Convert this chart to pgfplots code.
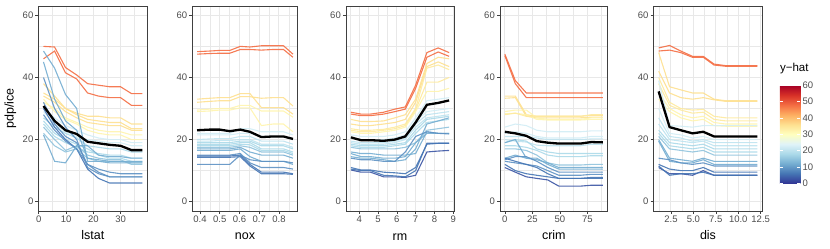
\documentclass[border=0pt]{standalone}
\usepackage{pgfplots}
\pgfplotsset{compat=1.18}
\usepackage{pgfplotstable}
\usepackage{fontspec}
\setmainfont{Liberation Sans}

\definecolor{c0}{HTML}{313695}
\definecolor{c6}{HTML}{4575B4}
\definecolor{c12}{HTML}{74ADD1}
\definecolor{c18}{HTML}{ABD9E9}
\definecolor{c24}{HTML}{D2EDF5}
\definecolor{c30}{HTML}{FFF4AE}
\definecolor{c36}{HTML}{FEE090}
\definecolor{c42}{HTML}{FDAE61}
\definecolor{c48}{HTML}{F46D43}
\definecolor{c54}{HTML}{D73027}
\definecolor{c60}{HTML}{A50026}
\colorlet{c3}{c0!50!c6}
\colorlet{c9}{c6!50!c12}
\colorlet{c15}{c12!50!c18}
\colorlet{c21}{c18!50!c24}
\colorlet{c33}{c30!50!c36}
\colorlet{c45}{c42!50!c48}
\newcommand{\cbf}{\fontsize{9.5}{11}\selectfont}

% lstat
\pgfplotstableread{
x     r1   r2   y1   y2   y3   y4   y5   l1   l2   l3   l4   l5   l6   l7   b1   b2   b3   b4   b5   b6   b7   pdp
1.73  50   46   38   35   34   32   33   30   29   27   25   26   24   22   48.5 45   40   32   30   28   21.5 30.8
5.8   49.8 48.5 34   33   32   30   29   27   25   24   21   22   20   18   43   33   30   25   24   23   13   26
9.8   43.2 41.5 30   30   29   27   26.5 24.5 22.5 22   19   20   16.5 16   34.5 26   24   21   20   19.5 12.5 23
13.9  40.8 39.5 28.5 28   27   25.5 25   23   21   20.5 17.5 18.5 18   17   30   23   20   19   17   17   18   21.8
17.9  38   35   27.5 26.5 25.5 24   23   21.5 20   18   16   17   15   14   13   14   11   12   10.5 12   18   19.3
21.9  37.5 34   27.5 26   25   23   22   20.5 19.5 17.5 15.5 15   14   13   13   13.5 9    9.5  7.5  10.5 15   18.8
26.0  37   33.5 27   25.5 24.5 22.5 21.5 20   19   17   15   14   13.5 13   12.5 13   8    8    6    9.5  14.5 18.3
30.0  37   33.5 27   25.5 24.5 22.5 21.5 20   19   17   15   14   13.5 13   12.5 13   8    8    6    9    14.5 18
34.0  34.8 31   25   23.5 23   21.5 20   19   18   16   14   13   12   12.5 12.5 13   8    8    6    9    14   16.6
37.97 34.8 31   25   23.5 23   21.5 20   19   18   16   14   13   12   12.5 12.5 13   8    8    6    9    14   16.6
}\tlstat

% nox
\pgfplotstableread{
x     r1   r2   y1   y2   y3   y4   l1   l2   l3   l4   l5   l6   l7   l8   b1   b2   b3   b4   b5   b6   pdp
0.385 48.3 47.5 33   32   29.5 29   22   21.5 20   19.5 19   18.5 18   17.5 17   16.5 15   14.7 14.3 12   23
0.449 48.5 47.7 33.3 32.3 29.8 29.2 22   21.5 20.2 19.5 19   18.5 18   17.5 17   16.5 15   14.7 14.3 12   23.2
0.5   48.7 47.8 33.5 32.5 30   29.5 22   21.5 20.3 19.7 19   18.5 18   17.5 17   16.5 15   14.7 14.3 12   23.2
0.551 48.7 47.8 33.5 32.5 30   29.5 22   21.5 20.3 19.7 19   18.5 18   17.5 17   16.5 15   14.7 14.3 12   22.7
0.604 50   49   34.8 33.8 31   30.2 23.5 22   21   20   19.5 19   18.5 18   17.5 17   15.5 15   14.5 15   23.2
0.653 49.8 49   34.8 33.8 31   30.2 23.5 22   21   20   19.5 19   18.3 17.5 16   14.5 12.5 12   11.5 13.5 22.5
0.711 50.2 48.8 30.3 33.3 29.2 24.5 22.5 21   19.5 18.5 18   17   16.5 16   15   13   11   9.5  9    13   20.8
0.77  50.2 49   30.3 33.5 29.2 25   22.5 21   19.5 18.5 18   17   16.5 16   15   13   11   9.5  9    13   21
0.823 50.2 49   30.3 33.5 29.2 25   22.5 21   19.5 18.5 18   17   16.5 16   15   13   11   9.5  9    13   21
0.871 47.5 46.5 28.2 30.8 27.2 22.5 21.5 20   18.5 17.5 17   16   15.5 15   14   12   10.5 9    8.8  12.5 20.2
}\tnox

% rm
\pgfplotstableread{
x     r1   r2   y1   y2   y3   y4   y5   l1   l2   l3   l4   l5   l6   l7   b1   b2   b3   b4   b5   b6   b7   pdp
3.561 28.8 28.2 26.5 25   23.5 23   22.5 21.5 20.5 19.5 19   18.5 18   17.5 16   15.5 14.5 14   11   10.2 10.5 20.7
4.1   28.2 27.7 25.8 24.5 23   22.5 22   21   20   19   18.5 18   17.5 17   15.5 14.5 14   13.5 10.2 9.5  10   19.8
4.6   28.2 27.7 25.8 24.5 23   22.5 22   21   20   19   18.5 18   17.5 17   15.5 14.5 14   13.5 10.2 9.5  10   19.8
5.3   28.8 28.2 26   25   23.3 23   22.5 21   20   19   18.5 18   17.5 17   15   14   13.5 13   9.5  8    8.5  19.6
5.9   29.8 29   27   25.5 24   23.5 23   21.5 20.5 19.5 19   18.5 18   17   15   14   13   13   9.3  8    8.3  20
6.45  30.5 29.8 28   26.5 25   24.5 24   22.5 21.5 20.5 20   19   18.5 17.5 15   14.5 13.5 16   9    7.8  8    21
7.0   37.5 36.5 33   32   30   29.5 29   27   26   25   24   23   22   19   15.5 19   17   21   11   8.5  10   25.5
7.6   48   46.5 44.5 43.5 43   38.5 35.5 32.5 29   28   27   26.5 25.5 23   22.5 22   25   22.5 18.5 16   18.8 31.2
8.2   49.5 48.2 46.5 45   44   38.5 35.5 33   29.5 28.5 27.5 27   26   23.5 22   22   26   22   18.8 16.3 18.8 31.8
8.78  48   46.8 46   43.5 42.5 40   36.5 33.5 30   29   28   27.5 26.5 24   22   22   27   21.8 18.8 16.5 18.8 32.6
}\trm

% crim
\pgfplotstableread{
x     r1   r2   y1   y2   y3   y4   y5   l1   l2   l3   l4   l5   l6   l7   b1   b2   b3   b4   b5   b6   b7   pdp
0.006 47.5 47   34   33.3 29   28.3 28   24   22   21   20   19   18   17   19   14   13.5 13   12   11   14   22.5
9.5   39   38   34   33.5 29.5 28.5 28.5 25   22.5 21   19.5 20   18   17   20   15   14.5 12.5 10   9.5  13   22
19.5  35   33.5 28   27.5 29.5 28   27.5 24.5 22   21   19.2 19.5 17.5 16.5 14   14   14.5 12   9    8    12   21.2
29    35   33.5 27.5 27   27   26.5 27.5 23   21   20.5 18.2 17   16.5 15   13.5 14   13   11.5 8.5  7.5  11   19.5
39    35   33.5 27.5 27   26.5 26.3 27.5 22.5 20.5 20   18   16   15   12.5 12.5 12   11   10   8    7    9    19
49    35   33.5 27.5 27   26.5 26.3 27.5 22.5 20.5 20   18   15.5 14.5 11.8 11   10.5 9.5  8.5  7.5  5    7.5  18.7
58.5  35   33.5 27.5 27   26.5 26.3 27.5 22.5 20.5 20   18   15.5 14.5 11.8 11   10.5 9.5  8.5  7.5  5    7.5  18.7
68.5  35   33.5 27.5 27   26.5 26.3 27.5 22.5 20.5 20   18   15.5 14.5 11.8 11   10.5 9.5  8.5  7.5  5    7.5  18.7
78.5  35   33.5 27.8 27.2 27   26.5 28   22.8 21   20.2 18.5 15.5 14.8 12   11   10.5 9.5  8.8  7.5  5.3  7.8  19.2
88.98 35   33.5 27.8 27.2 27   26.5 28   22.8 21   20.2 18.5 15.5 14.8 12   11   10.5 9.5  8.8  7.5  5.3  7.8  19.1
}\tcrim

% dis
\pgfplotstableread{
x     r1   r2   y1   y2   y3   y4   y5   y6   l1   l2   l3   l4   l5   l6   l7   b1   b2   b3   b4   b5   b6   pdp
1.13  49.5 48.5 48   42   40   38   35   33   39   30   27   25   23   22   21   20   19.5 14   12   11   11.5 35.5
2.35  50.3 48.8 37   35   32   31   30   29   24.5 22   21   20   19   18   17   14   13   13.5 10.5 9    8.5  24
3.6   48.5 48   36   33.5 30   29.5 28   27   24.3 21.5 20.5 19.5 18.5 17.5 16.5 13.5 12.5 12.5 10   9    9    23
4.9   46.8 46.5 35   33   29.5 28.5 27   26   24   20.5 19.5 19   18   17   16   13   12.5 12   10   8.5  9    22
6.1   46.8 46.5 35   33.5 29.7 28.8 27.5 26.5 24.5 21   20   19.5 18.5 17.5 16.5 14   13.5 12.5 11   10   9.5  22.5
7.3   44.3 44   33   32.8 27.5 26.5 25.5 24.5 24.5 20   19   18   17   16   15   13   12   11.5 9.5  8.5  8.5  21
8.6   43.8 43.6 32.5 32.3 27   26   25   24.3 24.5 20   19   18   17   16   15   13   12   11.5 9.5  8.5  8.5  21
9.9   43.8 43.6 32.5 32.3 27   26   25   24.3 24.5 20   19   18   17   16   15   13   12   11.5 9.5  8.5  8.5  21
11.0  43.8 43.6 32.5 32.3 27   26   25   24.3 24.5 20   19   18   17   16   15   13   12   11.5 9.5  8.5  8.5  21
12.13 43.8 43.6 32.5 32.3 27   26   25   24.3 24.5 20   19   18   17   16   15   13   12   11.5 9.5  8.5  8.5  21
}\tdis

\pgfplotsset{
  colormap={rdylbu}{rgb255=(49,54,149) rgb255=(69,117,180) rgb255=(116,173,209)
    rgb255=(171,217,233) rgb255=(224,243,248) rgb255=(255,255,191) rgb255=(254,224,144)
    rgb255=(253,174,97) rgb255=(244,109,67) rgb255=(215,48,39) rgb255=(165,0,38)},
  /pgf/number format/assume math mode=true,
  panel/.style={
    scale only axis, height=205pt, anchor=south west,
    ymin=-3, ymax=63, ytick={0,20,40,60}, minor ytick={10,30,50},
    grid=both,
    major grid style={color=black!9, line width=0.9pt},
    minor grid style={color=black!9, line width=0.45pt},
    axis line style={black!75, line width=0.7pt},
    tick align=outside, major tick length=3pt, minor tick length=0pt,
    tick style={black!75, line width=0.6pt},
    xtick pos=bottom, ytick pos=left,
    ticklabel style={font=\fontsize{9.5}{11}\selectfont, text=black!70},
    xticklabel style={inner sep=1pt, yshift=-1pt},
    yticklabel style={inner sep=1pt, xshift=-1pt},
    xlabel style={at={(axis description cs:0.5,0)}, anchor=base, yshift=-29pt, inner sep=0pt, font=\fontsize{12.5}{14}\selectfont},
    ylabel style={at={(axis description cs:0,0.5)}, anchor=center, yshift=28pt, inner sep=0pt, font=\fontsize{12.5}{14}\selectfont},
    every axis plot/.append style={line width=1.1pt, opacity=0.9, no markers},
  },
  pdp/.style={black, line width=2.3pt, opacity=1},
}

\begin{document}
\begin{tikzpicture}
\useasboundingbox (0,0) rectangle (830pt,249pt);

% ---------- lstat
\begin{axis}[panel, at={(38.5pt,38pt)}, width=108.8pt,
  xmin=-0.1, xmax=39.8, xtick={0,10,20,30}, minor xtick={5,15,25,35},
  xlabel={lstat}, ylabel={pdp/ice}]
\addplot[c48] table[y=r1]{\tlstat};
\addplot[c48] table[y=r2]{\tlstat};
\addplot[c36] table[y=y1]{\tlstat};
\addplot[c36] table[y=y2]{\tlstat};
\addplot[c36] table[y=y3]{\tlstat};
\addplot[c30] table[y=y4]{\tlstat};
\addplot[c30] table[y=y5]{\tlstat};
\addplot[c24] table[y=l1]{\tlstat};
\addplot[c24] table[y=l2]{\tlstat};
\addplot[c18] table[y=l3]{\tlstat};
\addplot[c18] table[y=l4]{\tlstat};
\addplot[c18] table[y=l5]{\tlstat};
\addplot[c15] table[y=l6]{\tlstat};
\addplot[c15] table[y=l7]{\tlstat};
\addplot[c12] table[y=b1]{\tlstat};
\addplot[c12] table[y=b2]{\tlstat};
\addplot[c9] table[y=b3]{\tlstat};
\addplot[c9] table[y=b4]{\tlstat};
\addplot[c6] table[y=b5]{\tlstat};
\addplot[c9] table[y=b6]{\tlstat};
\addplot[c12] table[y=b7]{\tlstat};
\addplot[pdp] table[y=pdp]{\tlstat};
\end{axis}

% ---------- nox
\begin{axis}[panel, at={(192.3pt,38pt)}, width=105.4pt,
  xmin=0.361, xmax=0.895, xtick={0.4,0.5,0.6,0.7,0.8}, minor xtick={0.45,0.55,0.65,0.75,0.85},
  xticklabels={0.4,0.5,0.6,0.7,0.8},
  xlabel={nox}]
\addplot[c48] table[y=r1]{\tnox};
\addplot[c48] table[y=r2]{\tnox};
\addplot[c36] table[y=y1]{\tnox};
\addplot[c36] table[y=y2]{\tnox};
\addplot[c30] table[y=y3]{\tnox};
\addplot[c30] table[y=y4]{\tnox};
\addplot[c24] table[y=l1]{\tnox};
\addplot[c24] table[y=l2]{\tnox};
\addplot[c21] table[y=l3]{\tnox};
\addplot[c21] table[y=l4]{\tnox};
\addplot[c18] table[y=l5]{\tnox};
\addplot[c18] table[y=l6]{\tnox};
\addplot[c18] table[y=l7]{\tnox};
\addplot[c15] table[y=l8]{\tnox};
\addplot[c12] table[y=b1]{\tnox};
\addplot[c12] table[y=b2]{\tnox};
\addplot[c9] table[y=b3]{\tnox};
\addplot[c6] table[y=b4]{\tnox};
\addplot[c6] table[y=b5]{\tnox};
\addplot[c9] table[y=b6]{\tnox};
\addplot[pdp] table[y=pdp]{\tnox};
\end{axis}

% ---------- rm
\begin{axis}[panel, at={(346pt,38pt)}, width=108pt,
  xmin=3.3, xmax=9.04, xtick={4,5,6,7,8,9}, minor xtick={3.5,4.5,5.5,6.5,7.5,8.5},
  xlabel={rm}]
\addplot[c48] table[y=r1]{\trm};
\addplot[c48] table[y=r2]{\trm};
\addplot[c36] table[y=y1]{\trm};
\addplot[c36] table[y=y2]{\trm};
\addplot[c33] table[y=y3]{\trm};
\addplot[c33] table[y=y4]{\trm};
\addplot[c30] table[y=y5]{\trm};
\addplot[c24] table[y=l1]{\trm};
\addplot[c24] table[y=l2]{\trm};
\addplot[c21] table[y=l3]{\trm};
\addplot[c21] table[y=l4]{\trm};
\addplot[c18] table[y=l5]{\trm};
\addplot[c18] table[y=l6]{\trm};
\addplot[c15] table[y=l7]{\trm};
\addplot[c12] table[y=b1]{\trm};
\addplot[c12] table[y=b2]{\trm};
\addplot[c12] table[y=b3]{\trm};
\addplot[c9] table[y=b4]{\trm};
\addplot[c6] table[y=b5]{\trm};
\addplot[c3] table[y=b6]{\trm};
\addplot[c6] table[y=b7]{\trm};
\addplot[pdp] table[y=pdp]{\trm};
\end{axis}

% ---------- crim
\begin{axis}[panel, at={(500pt,38pt)}, width=107.7pt,
  xmin=-4.4, xmax=93.4, xtick={0,25,50,75}, minor xtick={12.5,37.5,62.5,87.5},
  xlabel={crim}]
\addplot[c48] table[y=r1]{\tcrim};
\addplot[c48] table[y=r2]{\tcrim};
\addplot[c36] table[y=y1]{\tcrim};
\addplot[c36] table[y=y2]{\tcrim};
\addplot[c30] table[y=y3]{\tcrim};
\addplot[c30] table[y=y4]{\tcrim};
\addplot[c33] table[y=y5]{\tcrim};
\addplot[c24] table[y=l1]{\tcrim};
\addplot[c24] table[y=l2]{\tcrim};
\addplot[c21] table[y=l3]{\tcrim};
\addplot[c21] table[y=l4]{\tcrim};
\addplot[c18] table[y=l5]{\tcrim};
\addplot[c18] table[y=l6]{\tcrim};
\addplot[c15] table[y=l7]{\tcrim};
\addplot[c12] table[y=b1]{\tcrim};
\addplot[c12] table[y=b2]{\tcrim};
\addplot[c9] table[y=b3]{\tcrim};
\addplot[c9] table[y=b4]{\tcrim};
\addplot[c6] table[y=b5]{\tcrim};
\addplot[c3] table[y=b6]{\tcrim};
\addplot[c6] table[y=b7]{\tcrim};
\addplot[pdp] table[y=pdp]{\tcrim};
\end{axis}

% ---------- dis
\begin{axis}[panel, at={(653.7pt,38pt)}, width=108.6pt,
  xmin=0.58, xmax=12.68, xtick={2.5,5,7.5,10,12.5}, minor xtick={1.25,3.75,6.25,8.75,11.25},
  xticklabels={2.5,5.0,7.5,10.0,12.5},
  xlabel={dis},
  point meta min=0, point meta max=60, colormap name=rdylbu,
  colorbar,
  colorbar/width=20.5pt,
  colorbar style={
    at={(parent axis.south east)}, anchor=south west, xshift=9pt, yshift=27.7pt,
    scale only axis, height=98pt,
    ytick={0,10,20,30,40,50,60},
    yticklabels={{\cbf 0},{\cbf 10},{\cbf 20},{\cbf 30},{\cbf 40},{\cbf 50},{\cbf 60}},
    yticklabel pos=right,
    yticklabel style={text=black!70, inner sep=1pt, xshift=1pt},
    tick align=inside, major tick length=3.5pt,
    tick style={white, line width=0.7pt},
    axis line style={draw=none},
    title={y−hat},
    title style={at={(0,1)}, anchor=base west, yshift=8pt, inner sep=0pt, font=\fontsize{11.5}{13}\selectfont},
  }]
\addplot[c48] table[y=r1]{\tdis};
\addplot[c48] table[y=r2]{\tdis};
\addplot[c36] table[y=y1]{\tdis};
\addplot[c36] table[y=y2]{\tdis};
\addplot[c33] table[y=y3]{\tdis};
\addplot[c33] table[y=y4]{\tdis};
\addplot[c30] table[y=y5]{\tdis};
\addplot[c30] table[y=y6]{\tdis};
\addplot[c24] table[y=l1]{\tdis};
\addplot[c24] table[y=l2]{\tdis};
\addplot[c21] table[y=l3]{\tdis};
\addplot[c21] table[y=l4]{\tdis};
\addplot[c18] table[y=l5]{\tdis};
\addplot[c18] table[y=l6]{\tdis};
\addplot[c15] table[y=l7]{\tdis};
\addplot[c12] table[y=b1]{\tdis};
\addplot[c12] table[y=b2]{\tdis};
\addplot[c9] table[y=b3]{\tdis};
\addplot[c6] table[y=b4]{\tdis};
\addplot[c3] table[y=b5]{\tdis};
\addplot[c6] table[y=b6]{\tdis};
\addplot[pdp] table[y=pdp]{\tdis};
\end{axis}
\end{tikzpicture}
\end{document}
